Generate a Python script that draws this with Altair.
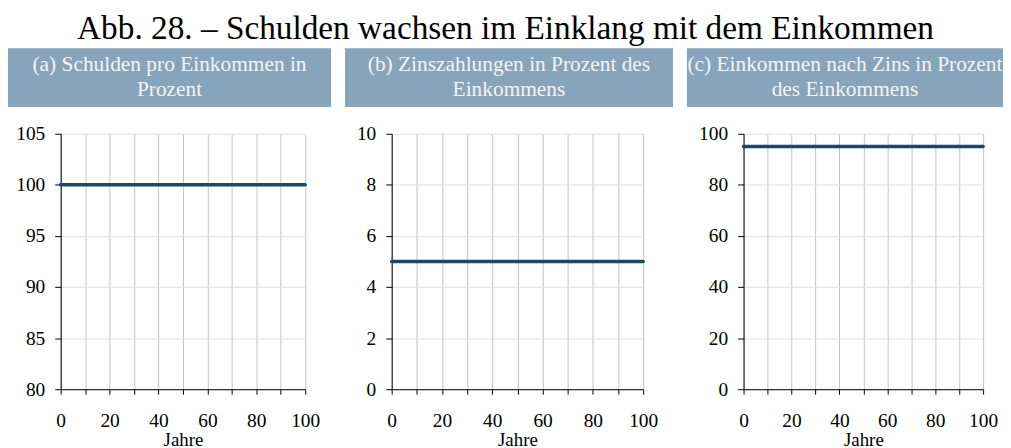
import altair as alt
import pandas as pd

# ---- data -------------------------------------------------------------
years = [0, 10, 20, 30, 40, 50, 60, 70, 80, 90, 100]
debt_to_income = [100, 100, 100, 100, 100, 100, 100, 100, 100, 100, 100]
interest_share = [5, 5, 5, 5, 5, 5, 5, 5, 5, 5, 5]
income_after_interest = [95, 95, 95, 95, 95, 95, 95, 95, 95, 95, 95]

x_ticks = [0, 10, 20, 30, 40, 50, 60, 70, 80, 90, 100]
y_ticks_a = [80, 85, 90, 95, 100, 105]
y_ticks_b = [0, 2, 4, 6, 8, 10]
y_ticks_c = [0, 20, 40, 60, 80, 100]

headers = [
    ["(a) Schulden pro Einkommen in", "Prozent"],
    ["(b) Zinszahlungen in Prozent des", "Einkommens"],
    ["(c) Einkommen nach Zins in Prozent", "des Einkommens"],
]
title_text = "Abb. 28. \u2013 Schulden wachsen im Einklang mit dem Einkommen"
x_title = "Jahre"

FONT = "Liberation Serif"
LINE_COLOR = "#1d4669"
HEAD_COLOR = "#88a4ba"


def panel(values, y_domain, y_ticks, width, header, hx1, hx2, htx):
    df = pd.DataFrame({"Jahr": years, "Wert": values})
    hdf = pd.DataFrame({"h": [0]})
    line = alt.Chart(df).mark_line(
        color=LINE_COLOR, strokeWidth=3.5, strokeCap="round"
    ).encode(
        x=alt.X(
            "Jahr:Q",
            scale=alt.Scale(domain=[0, 100], nice=False),
            axis=alt.Axis(
                values=x_ticks,
                labelExpr="datum.value % 20 == 0 ? datum.label : ''",
                title=x_title,
                grid=True,
                gridColor="#c4c4c4",
                domainColor="#000000",
                tickColor="#000000",
                tickSize=5,
                labelPadding=18,
                labelFontSize=19.5,
                titleFontSize=19,
                titleFontWeight="normal",
                titlePadding=0,
                labelFlush=False,
            ),
        ),
        y=alt.Y(
            "Wert:Q",
            scale=alt.Scale(domain=y_domain, nice=False, zero=False),
            axis=alt.Axis(
                values=y_ticks,
                title=None,
                grid=True,
                gridColor="#dedede",
                domainColor="#000000",
                tickColor="#000000",
                tickSize=6,
                labelPadding=10,
                labelFontSize=19.5,
            ),
        ),
    )
    rect = alt.Chart(hdf).mark_rect(color=HEAD_COLOR).encode(
        x=alt.value(hx1), x2=alt.value(hx2), y=alt.value(-86), y2=alt.value(-27)
    )
    text = alt.Chart(hdf).mark_text(
        font=FONT, fontSize=21.5, color="#f4f4f4", lineHeight=25,
        align="center", baseline="middle",
    ).encode(x=alt.value(htx), y=alt.value(-69), text=alt.value(header))
    return alt.layer(rect, text, line).properties(width=width, height=257)


pa = panel(debt_to_income, [80, 105], y_ticks_a, 246, headers[0], -53, 272, 109.5)
pb = panel(interest_share, [0, 10], y_ticks_b, 253, headers[1], -47, 283, 118)
pc = panel(income_after_interest, [0, 100], y_ticks_c, 241, headers[2], -57, 261, 102)

chart = alt.hconcat(pa, pb, pc, spacing=14).properties(
    title=alt.Title(title_text, fontSize=33.5, font=FONT, fontWeight="normal",
                    color="#000000", anchor="middle", offset=2),
    padding={"left": 0, "top": 2, "right": 0, "bottom": 60},
).configure(font=FONT).configure_axis(
    labelFont=FONT, titleFont=FONT, labelColor="#000000", titleColor="#000000"
).configure_view(stroke=None)

chart.save("out.html", embed_options={"renderer": "svg", "actions": False})
